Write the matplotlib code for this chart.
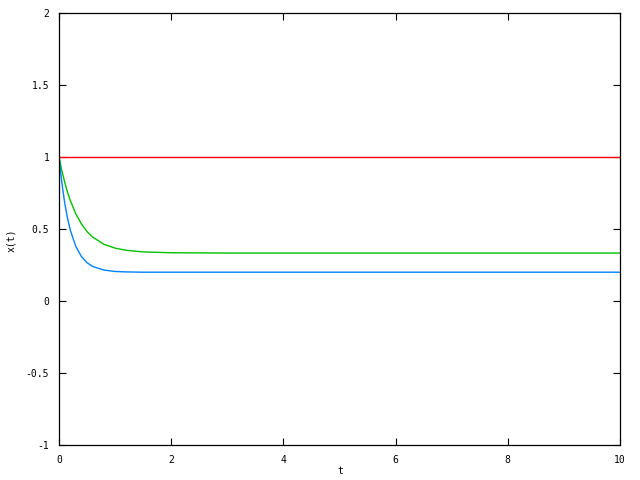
import matplotlib
matplotlib.use("Agg")
import matplotlib.pyplot as plt

t_vals = [0, 0.05, 0.1, 0.15, 0.2, 0.3, 0.4, 0.5, 0.6, 0.8, 1.0, 1.2, 1.5, 2.0, 2.5, 3.0, 4.0, 6.0, 8.0, 10.0]
blue_vals = [1.0, 0.823, 0.685, 0.578, 0.494, 0.379, 0.308, 0.266, 0.240, 0.215, 0.205, 0.202, 0.200, 0.200, 0.200, 0.200, 0.200, 0.200, 0.200, 0.200]
green_vals = [1.0, 0.907, 0.827, 0.758, 0.699, 0.605, 0.535, 0.482, 0.444, 0.394, 0.367, 0.352, 0.341, 0.335, 0.334, 0.333, 0.333, 0.333, 0.333, 0.333]
red_t = [0, 10]
red_vals = [1.0, 1.0]

x_ticks = [0, 2, 4, 6, 8, 10]
y_ticks = [-1, -0.5, 0, 0.5, 1, 1.5, 2]
y_tick_labels = ["-1", "-0.5", "0", "0.5", "1", "1.5", "2"]

fig = plt.figure(figsize=(6.4, 4.8), dpi=100)
ax = fig.add_axes([59/640, 35/480, 561/640, 432/480])

ax.plot(red_t, red_vals, color="#ff0000", lw=1.0)
ax.plot(t_vals, green_vals, color="#00c000", lw=1.0)
ax.plot(t_vals, blue_vals, color="#0080ff", lw=1.0)

ax.set_xlim(0, 10)
ax.set_ylim(-1, 2)
ax.set_xticks(x_ticks)
ax.set_xticklabels([str(v) for v in x_ticks])
ax.set_yticks(y_ticks)
ax.set_yticklabels(y_tick_labels)
ax.tick_params(direction="in", length=5, width=0.8, top=True, right=True,
               labelsize=7, pad=7)
for lab in ax.get_xticklabels() + ax.get_yticklabels():
    lab.set_family("DejaVu Sans Mono")
for s in ax.spines.values():
    s.set_linewidth(0.9)
ax.set_xlabel("t", fontsize=7, family="DejaVu Sans Mono", va="center")
ax.set_ylabel("x(t)", fontsize=7, family="DejaVu Sans Mono", va="center")
ax.xaxis.set_label_coords((340 - 59) / 561, -(471 - 445) / 432)
ax.yaxis.set_label_coords((11 - 59) / 561, (445 - 240) / 432)

fig.savefig("out.png", dpi=100)
